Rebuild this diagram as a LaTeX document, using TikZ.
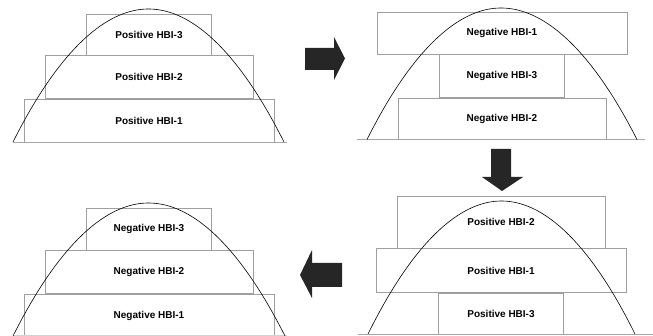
\documentclass[tikz,border=0pt]{standalone}
\usepackage{fontspec}
\setmainfont{Liberation Sans}
\usepackage{tikz}
\usetikzlibrary{positioning}

\tikzset{
  hbi/.style={draw=gray!75, line width=0.5pt, inner sep=0pt, minimum height=43pt,
    font=\fontsize{10}{12}\selectfont\bfseries},
  wide/.style={minimum width=250pt},
  mid/.style={minimum width=208pt},
  narrow/.style={minimum width=125pt},
  base/.style={draw=gray!70, line width=0.6pt},
  curve/.style={draw=black, line width=0.6pt},
  blk/.style={fill=black!85}
}

\begin{document}
\begin{tikzpicture}[x=1pt,y=-1pt]
  \useasboundingbox (0,0) rectangle (653,336);

  % top left
  \node[hbi, wide] (p1) at (149,120.5) {Positive HBI-1};
  \node[hbi, mid] (p2) [above=0pt of p1] {Positive HBI-2};
  \node[hbi, narrow, minimum height=41pt] (p3) [above=0pt of p2] {Positive HBI-3};
  \draw[base] (13,142) -- (287,142);
  \draw[curve] (13,142) parabola bend (148.5,9) (284,142);

  % top right
  \node[hbi, mid, minimum height=41pt] (n2) at (502,118.5) {Negative HBI-2};
  \node[hbi, narrow] (n3) [above=0pt of n2] {Negative HBI-3};
  \node[hbi, wide, minimum height=42pt] (n1) [above=0pt of n3] {Negative HBI-1};
  \draw[base] (357,139.5) -- (645,139.5);
  \draw[curve] (367,139.5) parabola bend (501,8) (637,139.5);

  % bottom right
  \node[hbi, narrow, minimum height=41pt] (q3) at (501,313.5) {Positive HBI-3};
  \node[hbi, wide, minimum height=44pt] (q1) [above=0pt of q3] {Positive HBI-1};
  \node[hbi, mid, minimum height=52pt] (q2) [above=0pt of q1] {Positive HBI-2};
  \draw[base] (358,334) -- (653,334);
  \draw[curve] (368,334) parabola bend (501.5,201) (635,334);

  % bottom left
  \node[hbi, wide] (m1) at (149,315.5) {Negative HBI-1};
  \node[hbi, mid] (m2) [above=0pt of m1] {Negative HBI-2};
  \node[hbi, narrow, minimum height=42pt] (m3) [above=0pt of m2] {Negative HBI-3};
  \draw[base, draw=gray!35] (13,335.5) -- (287,335.5);
  \draw[curve] (13,336) parabola bend (148.5,203) (285,336);

  % arrows
  \fill[blk] (305,48) -- (334,48) -- (334,37) -- (345,58.5) -- (334,80) -- (334,70) -- (305,70) -- cycle;
  \fill[blk] (491,149) -- (511,149) -- (511,177) -- (523,177) -- (502,191) -- (482,177) -- (491,177) -- cycle;
  \fill[blk] (342,263) -- (312,263) -- (312,250) -- (300,275) -- (312,298) -- (312,287) -- (342,287) -- cycle;
\end{tikzpicture}
\end{document}
